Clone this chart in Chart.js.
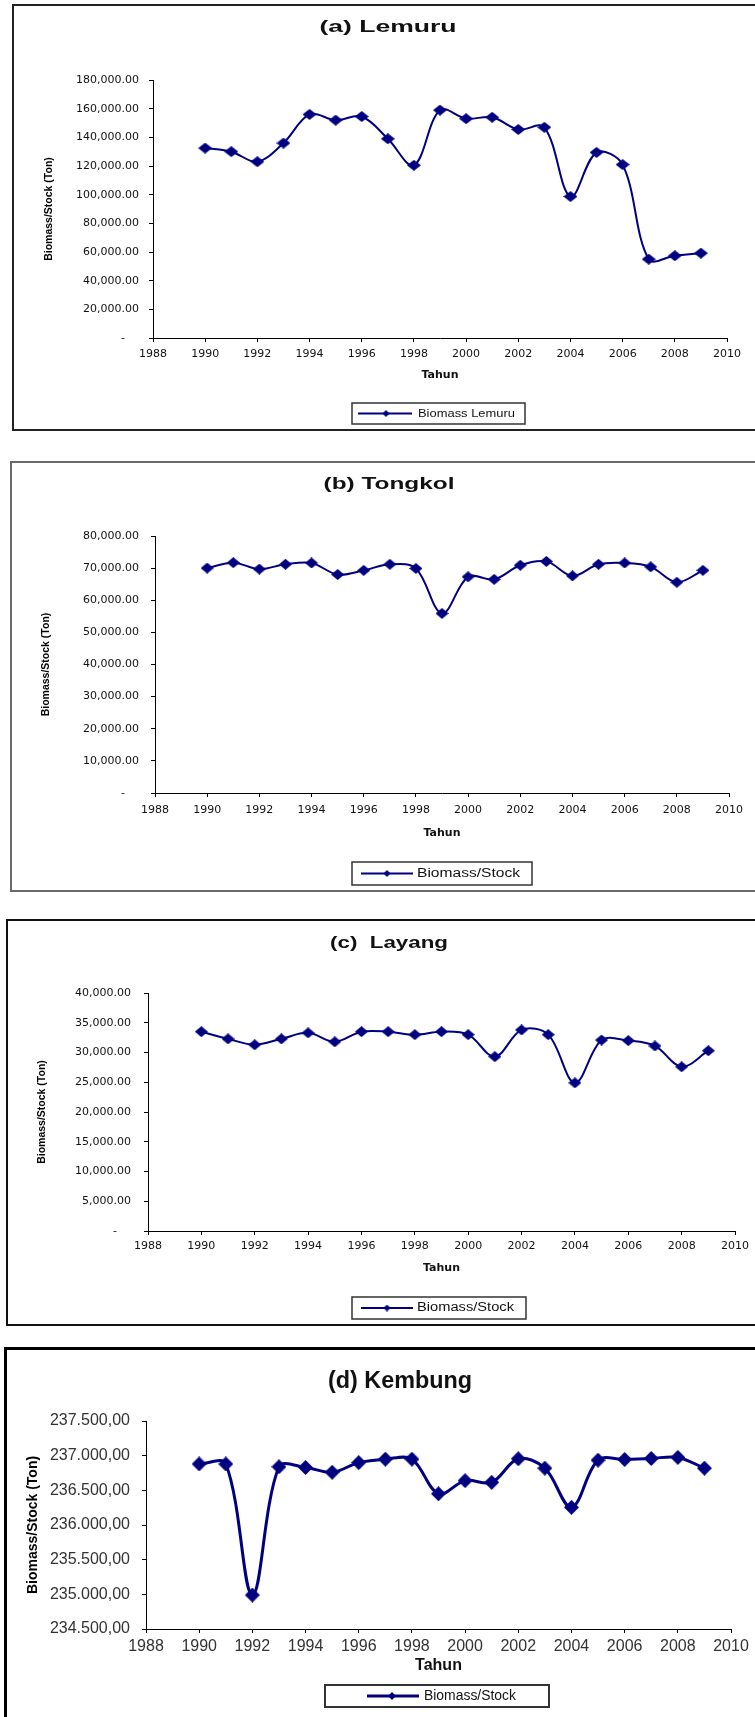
<!DOCTYPE html>
<html>
<head>
<meta charset="utf-8">
<script src="https://cdn.jsdelivr.net/npm/chart.js@4.4.1/dist/chart.umd.min.js"></script>
<style>
    body { margin: 0; background: #fff; width: 755px; height: 1717px; position: relative; overflow: hidden; }
    canvas { position: absolute; left: 0; }
    .frame { position: absolute; box-sizing: border-box; width: 800px; }
</style>
</head>
<body>
<div class="frame" style="left:12px;top:4px;height:427px;border:2px solid #222;"></div>
<div class="frame" style="left:10px;top:461px;height:431px;border:2px solid #6a6a6a;"></div>
<div class="frame" style="left:6px;top:919px;height:407px;border:2px solid #111;"></div>
<div class="frame" style="left:4px;top:1347px;height:420px;border:3px solid #000;"></div>
<canvas id="chartA"></canvas>
<canvas id="chartB"></canvas>
<canvas id="chartC"></canvas>
<canvas id="chartD"></canvas>
<script>
// Data
const years = [1990, 1991, 1992, 1993, 1994, 1995, 1996, 1997, 1998, 1999,
               2000, 2001, 2002, 2003, 2004, 2005, 2006, 2007, 2008, 2009];
const xTicks = [1988, 1990, 1992, 1994, 1996, 1998, 2000, 2002, 2004, 2006, 2008, 2010];

const lemuru = [132500, 130000, 123000, 136000, 156000, 152000, 154500, 139000, 120500, 159000,
                153000, 154000, 145500, 147000, 98700, 129500, 121000, 55000, 57400, 59200];
const tongkol = [70000, 71700, 69700, 71200, 71600, 68000, 69300, 71200, 69900, 55900,
                 67300, 66500, 70900, 72100, 67600, 71200, 71600, 70400, 65600, 69300];
const layang = [33500, 32300, 31300, 32300, 33300, 31800, 33500, 33500, 33000, 33500,
                33000, 29300, 33800, 33000, 24900, 32100, 32000, 31100, 27600, 30300];
const kembung = [236880, 236880, 234990, 236840, 236830, 236760, 236900, 236950, 236950, 236450,
                 236640, 236615, 236955, 236820, 236255, 236935, 236945, 236960, 236975, 236820];

const yTicksA = [0, 20000, 40000, 60000, 80000, 100000, 120000, 140000, 160000, 180000];
const yTicksB = [0, 10000, 20000, 30000, 40000, 50000, 60000, 70000, 80000];
const yTicksC = [0, 5000, 10000, 15000, 20000, 25000, 30000, 35000, 40000];
const yTicksD = [234500, 235000, 235500, 236000, 236500, 237000, 237500];

const NAVY = '#000080';

// number formats: 180,000.00 / "-" for zero, and 237.500,00
function fmt(v, th, dec) {
    const s = Math.round(v).toString().replace(/\B(?=(\d{3})+(?!\d))/g, th);
    return s + dec + '00';
}
const fmtUS = v => v === 0 ? '-    ' : fmt(v, ',', '.');
const fmtID = v => fmt(v, '.', ',');

// diamond marker as a small canvas (the source markers are a bit wider than tall)
function diamond(w, h) {
    const c = document.createElement('canvas');
    c.width = w; c.height = h;
    const g = c.getContext('2d');
    g.fillStyle = NAVY;
    g.beginPath();
    g.moveTo(w / 2, 0); g.lineTo(w, h / 2); g.lineTo(w / 2, h); g.lineTo(0, h / 2);
    g.closePath();
    g.fill();
    return c;
}

function stretchText(ctx, text, x, y, font, w, align) {
    ctx.font = font;
    ctx.textBaseline = 'middle';
    ctx.fillStyle = '#111';
    const nat = ctx.measureText(text).width;
    ctx.save();
    ctx.translate(x, y);
    ctx.scale(w / nat, 1);
    ctx.textAlign = align;
    ctx.fillText(text, 0, 0);
    ctx.restore();
}

// Title and Excel-style legend box
const decor = {
    id: 'decor',
    afterDraw(chart, args, o) {
        const ctx = chart.ctx;
        ctx.save();
        stretchText(ctx, o.title, o.titleX, o.titleY, o.titleFont, o.titleW, 'center');
        const [x1, y1, x2, y2] = o.box;
        const cy = (y1 + y2) / 2;
        ctx.strokeStyle = '#333';
        ctx.lineWidth = o.boxLW;
        ctx.strokeRect(x1, y1, x2 - x1, y2 - y1);
        ctx.strokeStyle = NAVY;
        ctx.lineWidth = o.lineW;
        ctx.beginPath();
        ctx.moveTo(o.line[0], cy);
        ctx.lineTo(o.line[1], cy);
        ctx.stroke();
        ctx.drawImage(o.mark, o.markX - o.mark.width / 2, cy - o.mark.height / 2);
        stretchText(ctx, o.text, o.textX, cy, o.textFont, o.textW, 'left');
        ctx.restore();
    }
};

function makePanel(id, p) {
    const cv = document.getElementById(id);
    cv.width = 755;
    cv.height = p.h;
    cv.style.top = p.top + 'px';
    const r = v => v - p.top;
    const tickFontSize = p.tickFont.size;
    const xTitleLH = p.xTitleFont.size * 1.2;
    const yTitleLH = p.yTitleFont.size * 1.2;

    new Chart(cv, {
        type: 'line',
        data: {
            datasets: [{
                data: years.map((x, i) => ({ x: x, y: p.values[i] })),
                borderColor: NAVY,
                borderWidth: p.lw,
                pointStyle: diamond(p.mw, p.mh),
                pointRadius: 5,
                tension: 0.35,
                fill: false
            }]
        },
        options: {
            responsive: false,
            animation: false,
            devicePixelRatio: 1,
            layout: { padding: { top: r(p.plotT), right: 755 - p.plotR, left: 0, bottom: 0 } },
            plugins: {
                legend: { display: false },
                tooltip: { enabled: false },
                decor: {
                    title: p.title, titleX: p.titleX, titleY: r(p.titleY), titleW: p.titleW, titleFont: p.titleFont,
                    box: [p.box[0], r(p.box[1]), p.box[2], r(p.box[3])], boxLW: p.boxLW,
                    line: p.legLine, lineW: p.lw, mark: diamond(p.legMark, p.legMark), markX: p.legMarkX,
                    text: p.legText, textX: p.legTextX, textW: p.legTextW, textFont: p.legFont
                }
            },
            scales: {
                x: {
                    type: 'linear',
                    min: xTicks[0],
                    max: xTicks[xTicks.length - 1],
                    afterBuildTicks: s => { s.ticks = xTicks.map(v => ({ value: v })); },
                    afterFit: s => { s.height = p.h - r(p.plotB); },
                    ticks: {
                        font: p.tickFont, color: p.tickColor, maxRotation: 0, autoSkip: false,
                        padding: r(p.xLabelY) - r(p.plotB) - 4 - tickFontSize * 1.2 / 2,
                        callback: v => String(v)
                    },
                    grid: { drawOnChartArea: false, tickLength: 4, color: '#000' },
                    border: { color: '#000', width: 1 },
                    title: {
                        display: true, text: 'Tahun', font: p.xTitleFont, color: '#111',
                        padding: { top: 0, bottom: p.h - r(p.xTitleY) - xTitleLH / 2 }
                    }
                },
                y: {
                    min: p.yTicks[0],
                    max: p.yTicks[p.yTicks.length - 1],
                    afterBuildTicks: s => { s.ticks = p.yTicks.map(v => ({ value: v })); },
                    afterFit: s => { s.width = p.plotL; },
                    ticks: {
                        font: p.tickFont, color: p.tickColor,
                        padding: p.plotL - 4 - p.yLabelR,
                        callback: p.fmt
                    },
                    grid: { drawOnChartArea: false, tickLength: 4, color: '#000' },
                    border: { color: '#000', width: 1 },
                    title: {
                        display: true, text: 'Biomass/Stock (Ton)', font: p.yTitleFont, color: '#000',
                        padding: { top: p.yTitleX - yTitleLH / 2, bottom: 0 }
                    }
                }
            }
        },
        plugins: [decor]
    });
}

const smallTick = { family: '"DejaVu Sans", sans-serif', size: 11 };
const smallAxisTitle = { family: '"DejaVu Sans", sans-serif', size: 11, weight: 'bold' };
const smallYTitle = { family: '"Liberation Sans", Arial, sans-serif', size: 10.5, weight: 'bold' };
const titleFont = 'bold 17px "Liberation Sans", Arial, sans-serif';

makePanel('chartA', {
    values: lemuru, yTicks: yTicksA, fmt: fmtUS,
    top: 4, h: 427, plotL: 153, plotR: 727, plotT: 80, plotB: 338,
    yLabelR: 139, yTitleX: 49, xLabelY: 354, xTitleY: 375,
    tickFont: smallTick, tickColor: '#111', xTitleFont: smallAxisTitle, yTitleFont: smallYTitle,
    lw: 2, mw: 14, mh: 11,
    title: '(a) Lemuru', titleX: 388, titleY: 27, titleW: 137, titleFont: titleFont,
    box: [352, 403, 525, 424], boxLW: 1.5, legLine: [358, 412], legMark: 7, legMarkX: 386,
    legText: 'Biomass Lemuru', legTextX: 418, legTextW: 97, legFont: '11px "Liberation Sans", Arial, sans-serif'
});

makePanel('chartB', {
    values: tongkol, yTicks: yTicksB, fmt: fmtUS,
    top: 461, h: 431, plotL: 155, plotR: 729, plotT: 536, plotB: 793,
    yLabelR: 139, yTitleX: 46, xLabelY: 810, xTitleY: 833,
    tickFont: smallTick, tickColor: '#111', xTitleFont: smallAxisTitle, yTitleFont: smallYTitle,
    lw: 2, mw: 13, mh: 11,
    title: '(b) Tongkol', titleX: 389, titleY: 484, titleW: 131, titleFont: titleFont,
    box: [352, 862, 532, 885], boxLW: 1.5, legLine: [361, 413], legMark: 7, legMarkX: 387,
    legText: 'Biomass/Stock', legTextX: 417, legTextW: 103, legFont: '12px "Liberation Sans", Arial, sans-serif'
});

makePanel('chartC', {
    values: layang, yTicks: yTicksC, fmt: fmtUS,
    top: 919, h: 407, plotL: 148, plotR: 735, plotT: 993, plotB: 1231,
    yLabelR: 131, yTitleX: 42, xLabelY: 1246, xTitleY: 1268,
    tickFont: smallTick, tickColor: '#111', xTitleFont: smallAxisTitle, yTitleFont: smallYTitle,
    lw: 2, mw: 13, mh: 11,
    title: '(c)  Layang', titleX: 389, titleY: 943, titleW: 118, titleFont: titleFont,
    box: [352, 1297, 526, 1319], boxLW: 1.5, legLine: [361, 413], legMark: 7, legMarkX: 387,
    legText: 'Biomass/Stock', legTextX: 417, legTextW: 97, legFont: '12px "Liberation Sans", Arial, sans-serif'
});

makePanel('chartD', {
    values: kembung, yTicks: yTicksD, fmt: fmtID,
    top: 1347, h: 370, plotL: 146, plotR: 731, plotT: 1421, plotB: 1629,
    yLabelR: 130, yTitleX: 33, xLabelY: 1647, xTitleY: 1666,
    tickFont: { family: '"Liberation Sans", Arial, sans-serif', size: 16 }, tickColor: '#333',
    xTitleFont: { family: '"Liberation Sans", Arial, sans-serif', size: 16, weight: 'bold' },
    yTitleFont: { family: '"Liberation Sans", Arial, sans-serif', size: 14, weight: 'bold' },
    lw: 3, mw: 15, mh: 15,
    title: '(d) Kembung', titleX: 400, titleY: 1381, titleW: 144, titleFont: 'bold 24px "Liberation Sans", Arial, sans-serif',
    box: [325, 1685, 549, 1707], boxLW: 2, legLine: [367, 419], legMark: 8, legMarkX: 392,
    legText: 'Biomass/Stock', legTextX: 424, legTextW: 92, legFont: '14px "Liberation Sans", Arial, sans-serif'
});
</script>
</body>
</html>
